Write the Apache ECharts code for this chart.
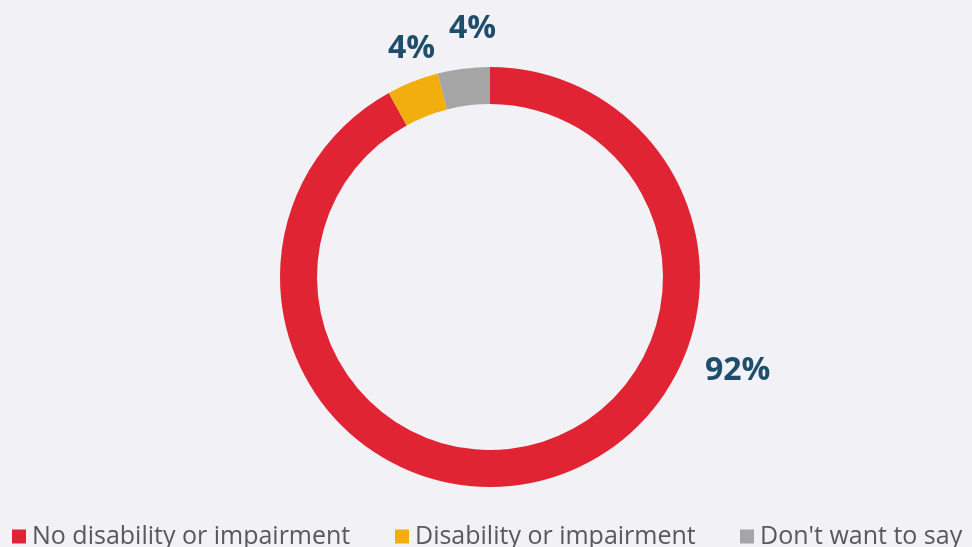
<!DOCTYPE html>
<html>
<head>
<meta charset="utf-8">
<script src="https://cdn.jsdelivr.net/npm/echarts@6/dist/echarts.min.js"></script>
<style>
html,body{margin:0;padding:0;background:#f1f1f6;}
#chart{width:972px;height:547px;}
</style>
</head>
<body>
<div id="chart"></div>
<script>
const categories = ['No disability or impairment', 'Disability or impairment', "Don't want to say"];
const values = [92, 4, 4];
const valueLabels = ['92%', '4%', '4%'];
const colors = ['#e02433', '#f2ae0d', '#a5a5a5'];

// label placement (angle clockwise from top in degrees, distance from centre in px)
const labelPolar = [[110.8, 265], [-19, 241], [-4, 249]];
const cx = 490, cy = 277;

const chart = echarts.init(document.getElementById('chart'));
const legendLefts = [12, 395, 740];
const option = {
  backgroundColor: '#f1f1f6',
  animation: false,
  legend: categories.map((c, i) => ({
    data: [c],
    left: legendLefts[i],
    top: 524,
    itemWidth: 14,
    itemHeight: 14,
    itemGap: 0,
    icon: 'rect',
    padding: 0,
    selectedMode: false,
    textStyle: { color: '#595959', fontSize: 25, fontFamily: 'Open Sans', padding: [0, 0, 0, 1] }
  })),
  series: [{
    type: 'pie',
    center: [cx, cy],
    radius: [173, 210],
    startAngle: 90,
    clockwise: true,
    avoidLabelOverlap: false,
    emphasis: { disabled: true },
    labelLine: { show: false },
    label: {
      show: true,
      position: 'outside',
      formatter: p => valueLabels[p.dataIndex],
      color: '#1d4e6b',
      fontSize: 32,
      fontWeight: 'bold',
      fontFamily: 'Open Sans'
    },
    labelLayout: function (p) {
      const [a, d] = labelPolar[p.dataIndex];
      const r = a * Math.PI / 180;
      return {
        x: cx + d * Math.sin(r),
        y: cy - d * Math.cos(r),
        align: 'center',
        verticalAlign: 'middle'
      };
    },
    data: categories.map((c, i) => ({ name: c, value: values[i], itemStyle: { color: colors[i] } }))
  }]
};
chart.setOption(option);
</script>
</body>
</html>
